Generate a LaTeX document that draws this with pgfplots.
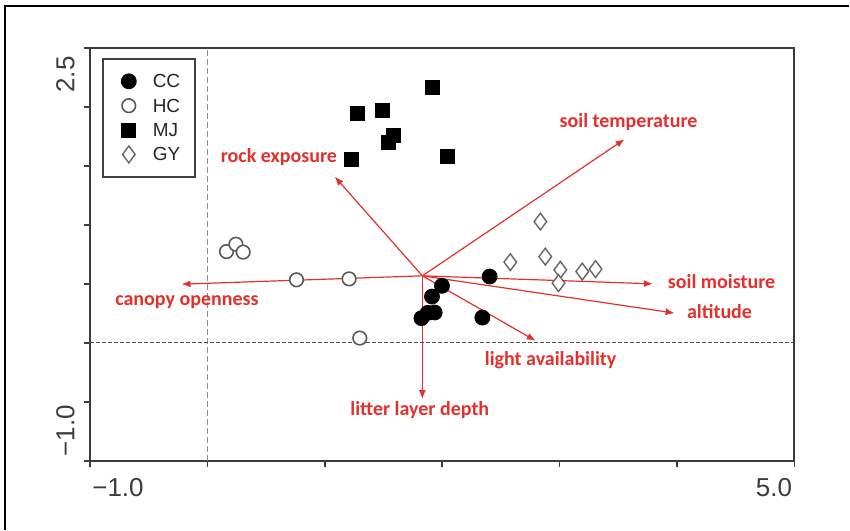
\documentclass[border=0pt]{standalone}
\usepackage{fontspec}
\setmainfont{Liberation Sans}
\newfontfamily\labfont{Carlito}
\usepackage{pgfplots}
\pgfplotsset{compat=1.18}
\usetikzlibrary{arrows.meta}
\definecolor{arrred}{RGB}{228,48,44}
\definecolor{axgray}{RGB}{60,60,60}
\begin{document}
\begin{tikzpicture}
\begin{axis}[
  x=58.75pt, y=59pt,
  xmin=-1, xmax=5, ymin=-1, ymax=2.5,
  axis line style={axgray, line width=1pt},
  tick style={axgray, line width=0.8pt},
  tick align=outside, tick pos=left,
  major tick length=3pt,
  xtick={-1,0,...,5}, ytick={-1,-0.5,...,2.5},
  xticklabel=\empty, yticklabel=\empty,
  clip=false,
  legend style={at={(axis cs:-0.898,2.415)}, anchor=north west, draw=black!75, line width=0.9pt,
    inner xsep=0pt, inner ysep=5.1pt, font=\fontsize{9.5}{10}\selectfont,
    nodes={inner sep=0pt, text height=9.3pt, text depth=2.9pt, text width=21pt, text=black!85, draw=none},
    row sep=0pt, column sep=0pt},
  legend cell align=left,
  legend image code/.code={\path[draw=none, fill=none] (-13pt,-6.1pt) rectangle (12pt,6.1pt); \draw[#1] plot coordinates {(0pt,0pt)};},
]
% reference lines
\draw[black!45, line width=0.5pt, dash pattern=on 3pt off 1.5pt] (axis cs:0,-1) -- (axis cs:0,2.5);
\draw[black!70, line width=0.5pt, dash pattern=on 2pt off 1pt] (axis cs:-1,0) -- (axis cs:5,0);
% biplot arrows
\addplot[arrred, line width=0.6pt, -{Latex[length=4.5pt,width=3.5pt]}, forget plot] coordinates {(1.831,0.568) (3.553,1.726)};
\addplot[arrred, line width=0.6pt, -{Latex[length=4.5pt,width=3.5pt]}, forget plot] coordinates {(1.831,0.568) (3.794,0.500)};
\addplot[arrred, line width=0.6pt, -{Latex[length=4.5pt,width=3.5pt]}, forget plot] coordinates {(1.831,0.568) (3.979,0.252)};
\addplot[arrred, line width=0.6pt, -{Latex[length=4.5pt,width=3.5pt]}, forget plot] coordinates {(1.831,0.568) (2.796,0.017)};
\addplot[arrred, line width=0.6pt, -{Latex[length=4.5pt,width=3.5pt]}, forget plot] coordinates {(1.831,0.568) (1.831,-0.477)};
\addplot[arrred, line width=0.6pt, -{Latex[length=4.5pt,width=3.5pt]}, forget plot] coordinates {(1.831,0.568) (1.085,1.409)};
\addplot[arrred, line width=0.6pt, -{Latex[length=4.5pt,width=3.5pt]}, forget plot] coordinates {(1.831,0.568) (-0.220,0.497)};
% sites
\addplot[only marks, mark=*, mark size=3.75pt, mark options={fill=black, draw=black, line width=0.4pt}] table {
x y
2.404 0.562
1.998 0.483
1.913 0.392
1.936 0.257
1.823 0.209
1.877 0.254
2.342 0.214
};
\addlegendentry{CC}
\addplot[only marks, mark=*, mark size=3.4pt, mark options={fill=white, draw=black!65, line width=0.8pt}] table {
x y
0.163 0.774
0.243 0.836
0.305 0.769
0.759 0.534
1.207 0.542
1.298 0.040
};
\addlegendentry{HC}
\addplot[only marks, mark=square*, mark size=3.5pt, mark options={fill=black, draw=black, line width=0.4pt}] table {
x y
1.917 2.167
1.275 1.947
1.491 1.975
1.581 1.763
1.539 1.697
1.227 1.557
2.041 1.579
};
\addlegendentry{MJ}
\addplot[only marks, mark=diamond*, mark size=4.2pt, mark options={fill=white, draw=black!60, line width=0.7pt}] table {
x y
2.836 1.028
2.580 0.684
2.878 0.731
3.006 0.619
2.991 0.506
3.193 0.604
3.306 0.625
};
\addlegendentry{GY}
% arrow labels
\begin{scope}[every node/.style={font=\labfont\bfseries\fontsize{10}{12}\selectfont, text=arrred, anchor=mid, inner sep=0pt}]
\node at (axis cs:3.587,1.873) {soil temperature};
\node at (axis cs:4.379,0.508) {soil moisture};
\node at (axis cs:4.362,0.254) {altitude};
\node at (axis cs:2.923,-0.144) {light availability};
\node at (axis cs:1.809,-0.568) {litter layer depth};
\node at (axis cs:0.609,1.576) {rock exposure};
\node at (axis cs:-0.174,0.364) {canopy openness};
\end{scope}
% tick labels
\begin{scope}[every node/.style={font=\fontsize{13}{15}\selectfont, text=axgray, inner sep=0pt}]
\node[anchor=north west] at (axis cs:-0.983,-1.144) {−1.0};
\node[anchor=north east] at (axis cs:4.983,-1.144) {5.0};
\node[rotate=90, anchor=south east] at (axis cs:-1.128,2.432) {2.5};
\node[rotate=90, anchor=south west] at (axis cs:-1.128,-0.966) {−1.0};
\end{scope}
% outer frame and page extent
\draw[black, line width=0.6pt] (axis cs:-1.723,-1.585) -- (axis cs:-1.723,2.856) -- (axis cs:5.468,2.856);
\path (axis cs:-1.766,-1.585) rectangle (axis cs:5.468,2.907);
\end{axis}
\end{tikzpicture}
\end{document}
